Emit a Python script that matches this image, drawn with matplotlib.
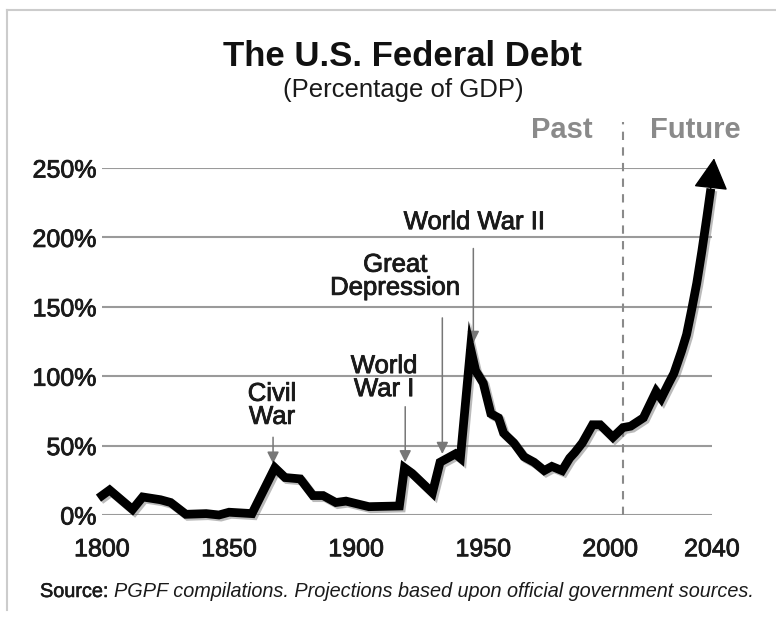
import matplotlib
matplotlib.use("Agg")
import matplotlib.pyplot as plt
import matplotlib.patheffects as pe
from matplotlib.lines import Line2D

plt.rcParams['font.family'] = ['Liberation Sans', 'DejaVu Sans']

# debt as % of GDP
years = [1800, 1803, 1812, 1816, 1823, 1827, 1833, 1841, 1846, 1850, 1859,
         1865, 1868, 1872, 1878, 1883, 1887, 1892, 1896, 1905, 1917, 1919,
         1922, 1930, 1933, 1939, 1941, 1945, 1947, 1950, 1953, 1956, 1958,
         1962, 1966, 1970, 1974, 1977, 1981, 1984, 1986, 1989, 1993, 1996,
         2001, 2005, 2008, 2013, 2018, 2020, 2023, 2025, 2028, 2030, 2032,
         2034, 2036, 2038, 2039.3]
debt = [14, 18, 4, 13, 11, 9, 0.5, 1, 0, 2, 1,
        23, 34, 27, 26, 14, 14, 9, 10, 6, 6.5, 34,
        30, 16, 38, 44, 41, 120, 104, 95, 73, 70, 59,
        52, 42, 38, 32, 35, 32, 41, 45, 52, 65, 65,
        56, 63, 64, 70, 89, 84, 95, 102, 118, 130, 148,
        167, 190, 215, 232]
arrow_tip = (2040.8, 257)

x_ticks = [1800, 1850, 1900, 1950, 2000, 2040]
y_ticks = [0, 50, 100, 150, 200, 250]
split_year = 2005

# event labels: text, text position, arrow tail, arrow head
events = [
    ("Civil\nWar", (1866.9, 79), (1867.3, 56), (1867.3, 37)),
    ("World\nWar I", (1911.0, 99), (1919.3, 78), (1919.3, 38)),
    ("Great\nDepression", (1915.4, 172), (1933.9, 142), (1933.9, 44)),
    ("World War II", (1946.5, 211), (1946.1, 192), (1946.1, 124)),
]

ink = '#1a1a1a'
heavy = [pe.withStroke(linewidth=0.6, foreground=ink)]

fig = plt.figure(figsize=(7.76, 6.17), dpi=100)
ax = fig.add_axes([102 / 776, 1 - 515 / 617, 610 / 776, 347 / 617])

# thin frame on top and left like the scan
fig.add_artist(Line2D([7 / 776, 1], [1 - 10 / 617, 1 - 10 / 617], color='#cccccc', lw=1.5))
fig.add_artist(Line2D([7 / 776, 7 / 776], [1 - 10 / 617, 1 - 610 / 617], color='#cccccc', lw=1.5))

ax.set_xlim(1800, 2040)
ax.set_ylim(0, 250)
for v in y_ticks:
    ax.axhline(v, color='#9a9a9a', lw=1.5, zorder=1)
for s in ax.spines.values():
    s.set_visible(False)

ax.set_xticks(x_ticks)
ax.set_xticklabels([str(t) for t in x_ticks])
ax.set_yticks(y_ticks)
ax.set_yticklabels([f"{v}%" for v in y_ticks])
ax.tick_params(axis='both', length=0, labelsize=18, colors=ink)
ax.tick_params(axis='y', pad=4)
ax.tick_params(axis='x', pad=16)
for lab in ax.get_xticklabels() + ax.get_yticklabels():
    lab.set_path_effects(heavy)

# past / future divider
ax.plot([split_year, split_year], [0, 283], color='#8a8a8a', lw=1.5,
        ls=(0, (4, 3.5)), clip_on=False, zorder=2)
ax.text(1993.2, 271.6, "Past", ha='right', va='baseline', fontsize=21,
        fontweight='bold', color='#8a8a8a')
ax.text(2015.5, 271.6, "Future", ha='left', va='baseline', fontsize=21,
        fontweight='bold', color='#8a8a8a')

ax.plot(years, debt, color='black', lw=6.3, solid_joinstyle='miter', clip_on=False, zorder=4,
        path_effects=[pe.SimpleLineShadow(offset=(1.5, -1.5), shadow_color='#777777', alpha=0.5),
                      pe.Normal()])
ax.annotate('', xy=arrow_tip, xytext=(years[-1], debt[-1]),
            arrowprops=dict(arrowstyle='-|>,head_length=1.0,head_width=0.55',
                            mutation_scale=20, color='black', lw=1,
                            shrinkA=0, shrinkB=0),
            annotation_clip=False, zorder=5)

for label, tpos, tail, head in events:
    ax.text(tpos[0], tpos[1], label, ha='center', va='center', fontsize=18.5,
            linespacing=0.95, color=ink, path_effects=heavy)
    ax.annotate('', xy=head, xytext=tail,
                arrowprops=dict(arrowstyle='-|>,head_length=0.5,head_width=0.25',
                                mutation_scale=14, color='#777777', lw=1.1,
                                shrinkA=0, shrinkB=0), zorder=3)

fig.text(402 / 776, 1 - 56 / 617, "The U.S. Federal Debt", ha='center', va='center',
         fontsize=25, fontweight='bold', color='#111111')
fig.text(403 / 776, 1 - 90 / 617, "(Percentage of GDP)", ha='center', va='center',
         fontsize=18.5, color=ink)

src = fig.text(40 / 776, 1 - 597 / 617, "Source: ", ha='left', va='baseline',
               fontsize=14.3, color=ink, path_effects=[pe.withStroke(linewidth=0.4, foreground=ink)])
ax.annotate("PGPF compilations. Projections based upon official government sources.",
            xy=(1, 0), xycoords=src, ha='left', va='bottom', fontsize=14.3,
            style='italic', color=ink, annotation_clip=False)
plt.savefig("out.png", dpi=100)
